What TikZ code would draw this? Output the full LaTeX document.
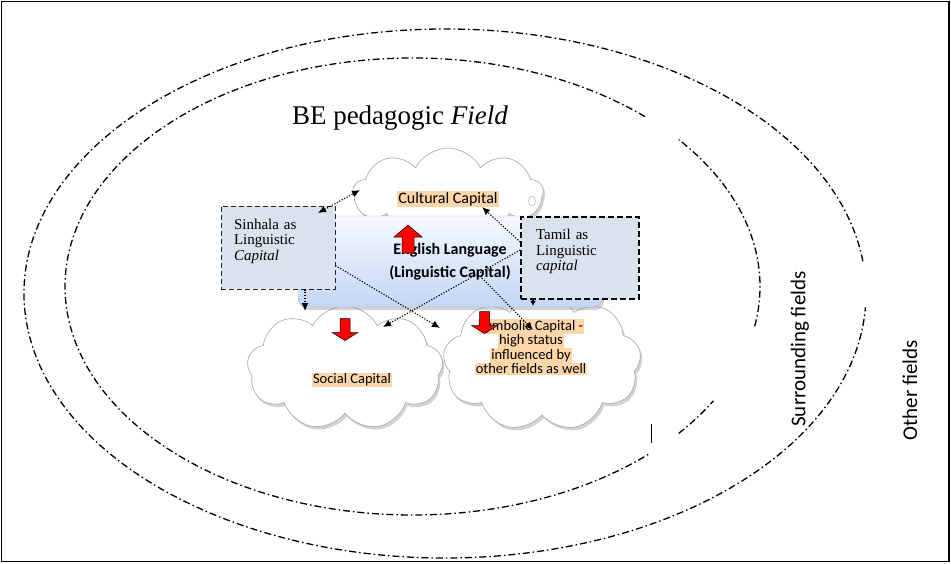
\documentclass[tikz,border=0pt]{standalone}
\usepackage{fontspec}
\setmainfont{Liberation Serif}
\setsansfont{Carlito}
\usepackage{tikz}
\usetikzlibrary{shapes.symbols, shapes.geometric, shadows, arrows.meta, math}

\definecolor{boxgray}{HTML}{DAE2EE}
\definecolor{langtop}{HTML}{F6F9FF}
\definecolor{langbot}{HTML}{C3D6F7}
\definecolor{glowfill}{HTML}{FCD6A8}

\newcommand{\glowbox}[1]{{\setlength{\fboxsep}{1pt}\colorbox{glowfill}{#1}}}

\tikzset{
    fielddash/.style={line width=1.3pt, dash pattern=on 7pt off 3pt on 1.5pt off 3pt},
    capcloud/.style={cloud, cloud puffs=9, cloud puff arc=125, cloud ignores aspect, draw=gray!70, fill=white, line width=0.6pt, drop shadow={shadow xshift=2pt, shadow yshift=-3pt, opacity=0.35}},
    caplabel/.style={font=\sffamily\fontsize{14.5}{14.5}\selectfont, align=center, inner sep=0pt, execute at begin node={\lineskiplimit=-20pt}},
    lingbox/.style={rectangle, fill=boxgray, align=left, font=\fontsize{15}{15.5}\selectfont, inner sep=0pt, dash pattern=on 5pt off 3pt},
    dotarr/.style={line width=1.1pt, dash pattern=on 1.2pt off 1.6pt},
    redblock/.style={draw=black, line width=0.5pt, fill=red},
    redup/.pic={\draw[redblock] (-6,14) -- (-6,-2) -- (-14,-2) -- (0,-14) -- (14,-2) -- (6,-2) -- (6,14) -- cycle;},
    reddown/.pic={\draw[redblock] (-5,-11) -- (5,-11) -- (5,3) -- (13,3) -- (0,11) -- (-13,3) -- (-5,3) -- cycle;}
}

\begin{document}
\begin{tikzpicture}[x=1pt, y=-1pt, >={Latex[length=8pt,width=7pt]}]
    \tikzmath{\xLang = 450; \yLang = 261.5; \yTop = 193; \yLow = 365;}
    \useasboundingbox (0,0) rectangle (951,563);
    \draw[line width=1.8pt] (1.5,1.5) rectangle (949,561.5);

    \coordinate (outer-c) at (445,293.5);
    \coordinate (inner-c) at (412.5,286.5);
    \draw[fielddash] ([shift={(7:421pt and 264.5pt)}]outer-c) arc[start angle=7, end angle=357, x radius=421pt, y radius=264.5pt];
    \draw[fielddash] ([shift={(48:347.5pt and 228.5pt)}]inner-c) arc[start angle=48, end angle=313, x radius=347.5pt, y radius=228.5pt];
    \draw[fielddash] ([shift={(-10:347.5pt and 228.5pt)}]inner-c) arc[start angle=-10, end angle=40, x radius=347.5pt, y radius=228.5pt];
    \draw[fielddash] ([shift={(-40:347.5pt and 228.5pt)}]inner-c) arc[start angle=-40, end angle=-30, x radius=347.5pt, y radius=228.5pt];
    \draw[line width=0.9pt] (651,424) -- (651,443);

    \node[font=\fontsize{27}{32}\selectfont](title) at (400,118) {BE pedagogic \textit{Field}};
    \node[rotate=90, font=\sffamily\fontsize{21}{25}\selectfont](surrounding) at (800,349) {Surrounding fields};
    \node[rotate=90, font=\sffamily\fontsize{21}{25}\selectfont](other) at (910,390) {Other fields};

    \node[capcloud, minimum width=190pt, minimum height=90pt](cultural) at (448,\yTop) {};
    \node[ellipse, draw=gray!70, fill=white, inner sep=0pt, minimum width=7pt, minimum height=10pt](bubble) at (532,201) {};
    \node[capcloud, minimum width=196pt, minimum height=124pt](social) at (345,\yLow+3) {};
    \node[capcloud, minimum width=198pt, minimum height=138pt](symbolic) at (542,\yLow-3) {};

    \node[rectangle, rounded corners=9pt, draw=gray!60, top color=langtop, bottom color=langbot, minimum width=304pt, minimum height=91pt, align=center, font=\sffamily\bfseries\fontsize{16}{23}\selectfont, drop shadow={shadow xshift=2pt, shadow yshift=-3pt, opacity=0.35}](english) at (\xLang,\yLang) {English Language\\(Linguistic Capital)};

    \node[lingbox, draw=gray!30!black, line width=0.8pt, minimum width=114pt, minimum height=83pt, text width=88pt](sinhala) at (278,247.5) {Sinhala as\\Linguistic\\\textit{Capital}\\ \mbox{}};
    \node[lingbox, draw=black, line width=1.5pt, dash pattern=on 6pt off 3pt, minimum width=118pt, minimum height=82pt, text width=88pt](tamil) at (580,258) {Tamil as\\Linguistic\\\textit{capital}\\ \mbox{}};

    \node[caplabel, font=\sffamily\fontsize{16}{16}\selectfont](cultural-lbl) at (448,199) {\glowbox{Cultural Capital}};
    \node[caplabel](social-lbl) at (352,380) {\glowbox{Social Capital}};
    \node[caplabel](symbolic-lbl) at (531,347) {\glowbox{Symbolic Capital -}\\\glowbox{high status}\\\glowbox{influenced by}\\\glowbox{other fields as well}};

    \pic at (408,239) {redup};
    \pic at (345,329.5) {reddown};
    \pic at (484.5,322.5) {reddown};

    \coordinate (sinhala-in) at (318,213);
    \coordinate (cultural-w) at (360,190);
    \coordinate (cultural-se) at (482,207);
    \coordinate (social-nw) at (305,311);
    \coordinate (social-ne) at (383,327);
    \coordinate (symbolic-w) at (440,328);
    \coordinate (symbolic-n) at (533,330);
    \coordinate (english-se) at (480,276);

    \draw[dotarr, <->] (sinhala-in) -- (cultural-w);
    \draw[dotarr, ->] ([xshift=27pt]sinhala.south) -- (social-nw);
    \draw[dotarr, ->] ([yshift=-18pt]sinhala.east) -- (symbolic-w);
    \draw[dotarr, ->] ([yshift=8pt]tamil.west) -- (social-ne);
    \draw[dotarr, ->] ([yshift=16pt]tamil.west) -- (cultural-se);
    \draw[dotarr, ->] (english-se) -- (symbolic-n);
    \draw[dotarr, -{Latex[length=5pt,width=6pt]}] ([xshift=-47pt]tamil.south) -- ++(0,6);
\end{tikzpicture}
\end{document}
